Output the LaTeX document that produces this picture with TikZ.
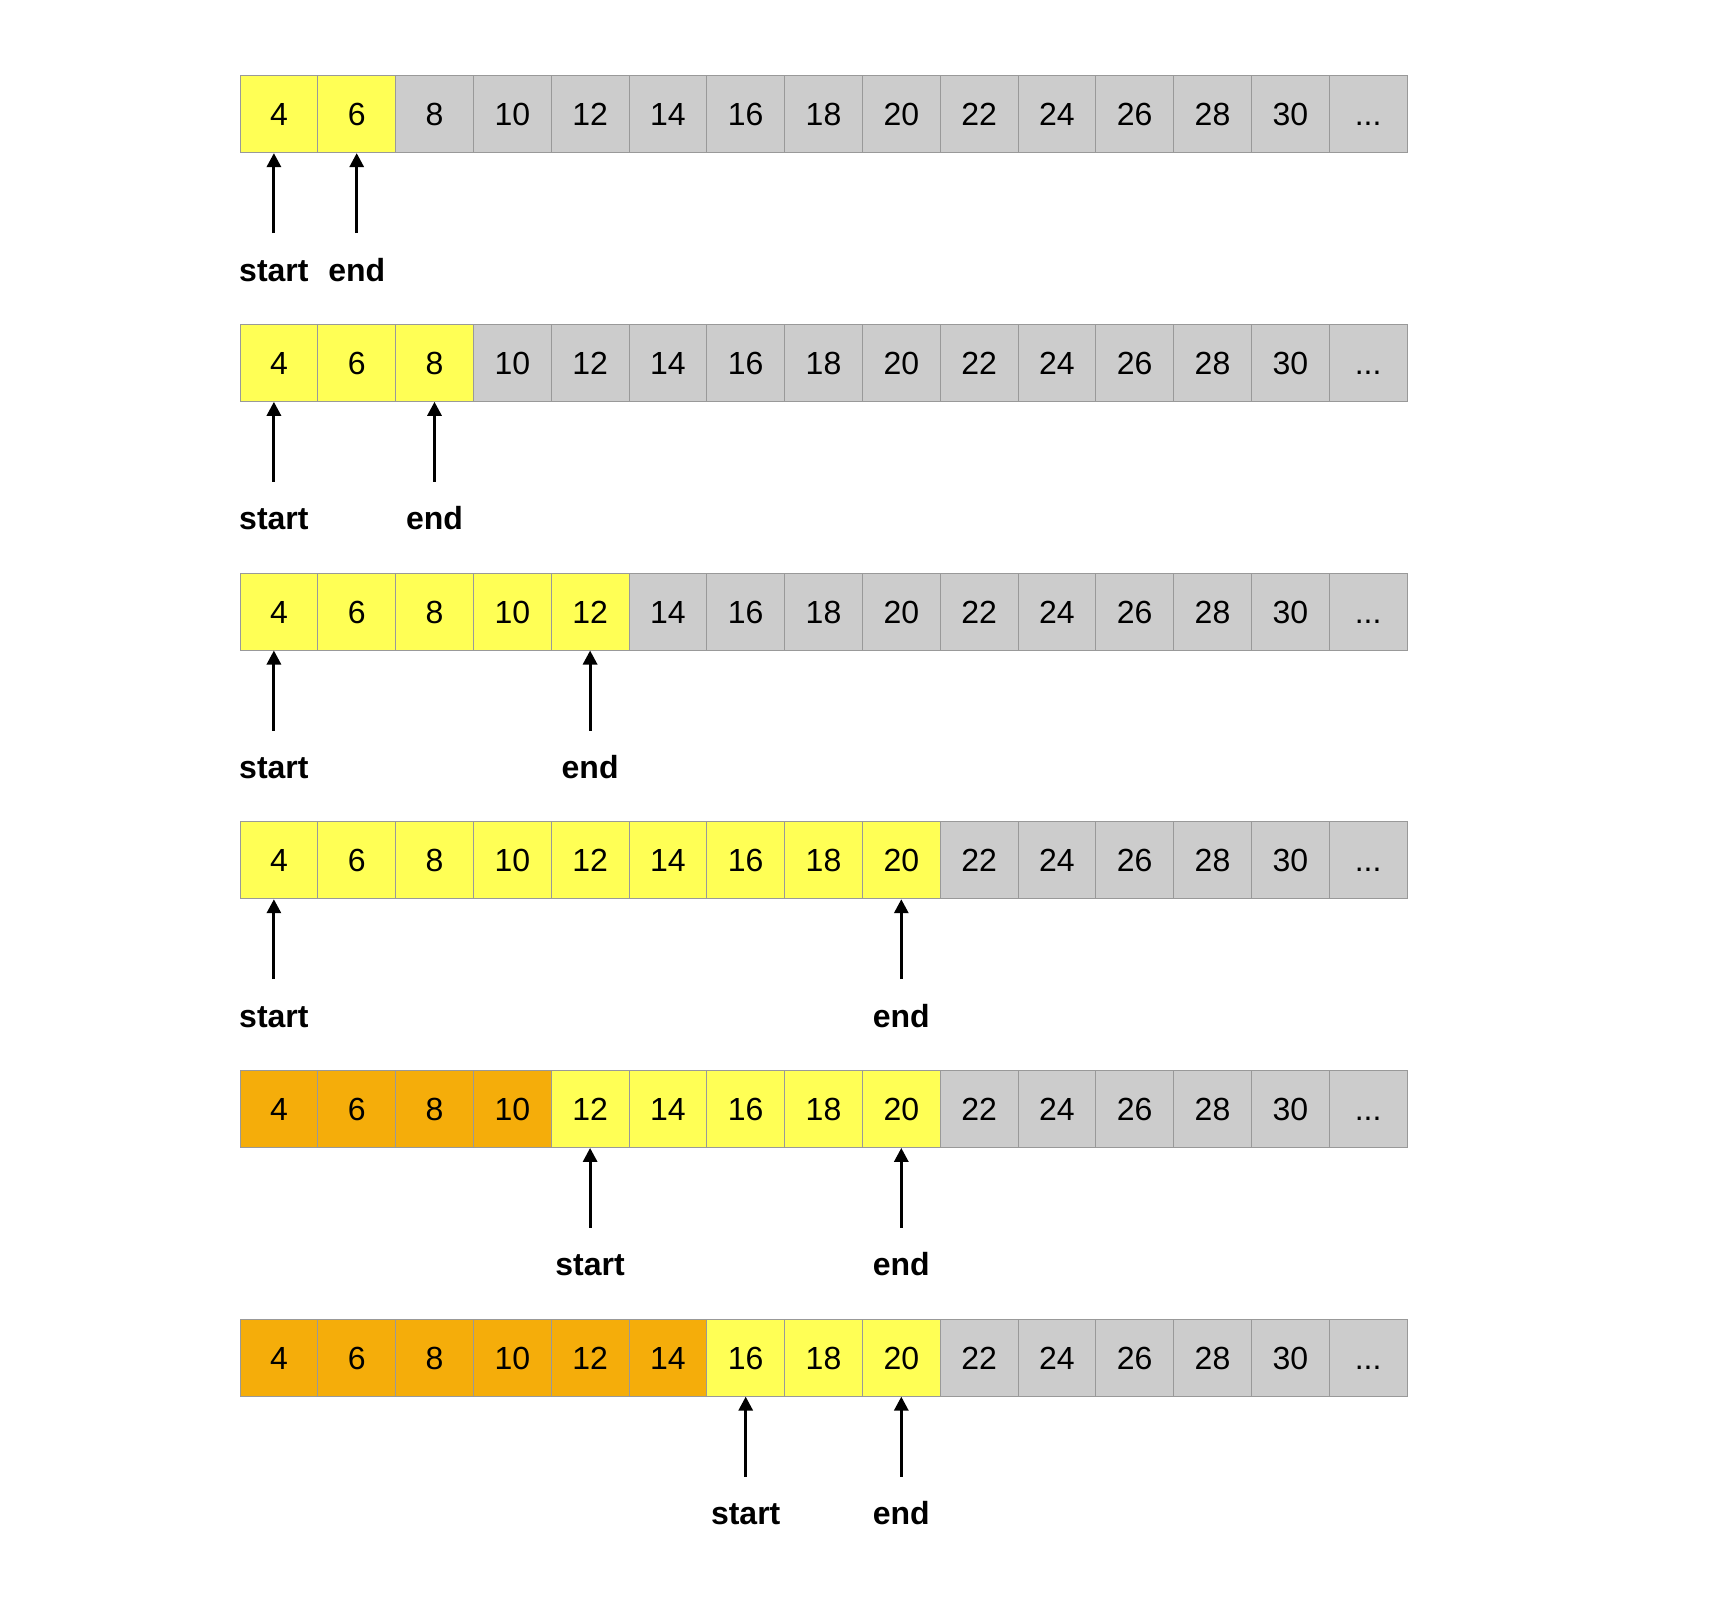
\documentclass[tikz,border=0pt]{standalone}
\usepackage{fontspec}
\setmainfont{Liberation Sans}
\usetikzlibrary{arrows.meta,calc}

\definecolor{cellgray}{HTML}{CCCCCC}
\definecolor{cellyellow}{HTML}{FFFF55}
\definecolor{cellorange}{HTML}{F5AD0A}
\definecolor{cellline}{HTML}{999999}

\tikzset{
	cell/.style={draw=cellline, line width=0.5pt, minimum width=38.9pt, minimum height=38.5pt, inner sep=0pt,
		text height=11.5pt, text depth=0pt, font=\fontsize{16}{19}\selectfont},
	ptr/.style={-{Triangle[length=7pt,width=7pt]}, line width=1.5pt},
	ptrlabel/.style={anchor=base, inner sep=0pt, font=\bfseries\fontsize{16}{19}\selectfont},
}

\begin{document}
\begin{tikzpicture}[x=0.5pt,y=-0.5pt]
			\useasboundingbox (0,0) rectangle (1718,1602);

			% row / orange cells / last yellow cell (end) / start cell
			\foreach \r/\nor/\en/\st in {0/0/1/0, 1/0/2/0, 2/0/4/0, 3/0/8/0, 4/4/8/4, 5/6/8/6} {
				\pgfmathsetmacro{\rowtop}{75.6+248.7*\r}
				\foreach \i in {0,...,13} {
					\pgfmathtruncatemacro{\val}{4+2*\i}
					\ifnum\i<\nor \def\fillc{cellorange}\else
						\ifnum\i>\en \def\fillc{cellgray}\else \def\fillc{cellyellow}\fi
					\fi
					\node[cell, fill=\fillc] (c\r-\i) at ({240+77.8*(\i+0.5)}, {\rowtop+38.5}) {\val};
				}
				\node[cell, fill=cellgray] (c\r-14) at ({240+77.8*14.5}, {\rowtop+38.5}) {...};

				\ifnum\st=0 \def\sx{-5}\else\def\sx{0}\fi
				\coordinate (st\r) at ($(c\r-\st.south)+(\sx,80)$);
				\node[ptrlabel] (stl\r) at ($(c\r-\st.south)+(\sx,128)$) {start};
				\draw[ptr] (st\r) -- (st\r |- c\r-\st.south);

				\coordinate (en\r) at ($(c\r-\en.south)+(0,80)$);
				\node[ptrlabel] (enl\r) at ($(c\r-\en.south)+(0,128)$) {end};
				\draw[ptr] (en\r) -- (c\r-\en.south);
			}
		\end{tikzpicture}
\end{document}
